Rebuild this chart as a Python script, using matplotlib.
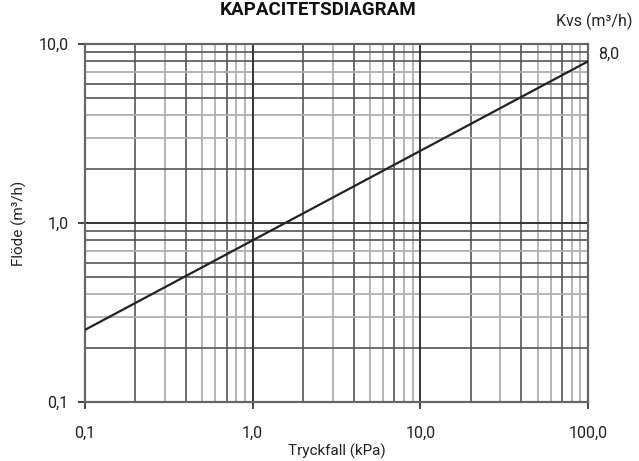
import numpy as np
import matplotlib
matplotlib.use("Agg")
import matplotlib.pyplot as plt

plt.rcParams['font.family'] = ['Roboto', 'DejaVu Sans']

# Data
kvs = 8.0
dp_kpa = [0.1, 100.0]
flow = [kvs * np.sqrt(d / 100.0) for d in dp_kpa]
x_ticks = [0.1, 1.0, 10.0, 100.0]
x_labels = ["0,1", "1,0", "10,0", "100,0"]
y_ticks = [0.1, 1.0, 10.0]
y_labels = ["0,1", "1,0", "10,0"]
# minor grid multipliers with darkness (True = dark)
x_minor = [(2, True), (3, False), (4, True), (5, False), (6, False), (7, True), (8, False), (9, False)]
y_minor = [(2, True), (3, False), (4, False), (5, True), (6, True), (7, False), (8, True), (9, True)]

fig = plt.figure(figsize=(6.39, 4.61), dpi=100)
ax = fig.add_axes([85/639, 1 - 402/461, (588-85)/639, (402-44)/461])
ax.set_xscale('log')
ax.set_yscale('log')
ax.set_xlim(0.1, 100)
ax.set_ylim(0.1, 10)

dark = '#555555'
light = '#b0b0b0'
for dec in [0.1, 1, 10]:
    for m, d in x_minor:
        ax.axvline(dec * m, color=dark if d else light, lw=1.3 if not d else 1.2, zorder=1)
for dec in [0.1, 1]:
    for m, d in y_minor:
        ax.axhline(dec * m, color=dark if d else light, lw=1.3 if not d else 1.2, zorder=1)
for v in [1, 10]:
    ax.axvline(v, color='#333333', lw=1.4, zorder=2)
ax.axhline(1, color='#333333', lw=1.4, zorder=2)

ax.plot(dp_kpa, flow, color='#222222', lw=1.6, zorder=3)

for s in ax.spines.values():
    s.set_color('#666666')
    s.set_linewidth(1.6)

ax.set_xticks(x_ticks)
ax.set_xticklabels(x_labels)
ax.set_yticks(y_ticks)
ax.set_yticklabels(y_labels)
ax.xaxis.set_minor_locator(matplotlib.ticker.NullLocator())
ax.yaxis.set_minor_locator(matplotlib.ticker.NullLocator())
ax.tick_params(axis='both', length=5, width=1.4, color='#444444', labelsize=11.5, pad=12, labelcolor='#222222')
ax.tick_params(axis='y', pad=7)

ax.set_xlabel("Tryckfall (kPa)", fontsize=11, color='#222222', labelpad=2)
ax.set_ylabel("Flöde (m³/h)", fontsize=11, color='#222222', labelpad=8)

fig.text(318/639, 1 - 1/461, "KAPACITETSDIAGRAM", ha='center', va='top', fontsize=13.5, fontweight='bold', color='#111111')
fig.text(632/639, 1 - 21/461, "Kvs (m³/h)", ha='right', va='center', fontsize=11.5, color='#222222')
ax.annotate("8,0", xy=(100, kvs), xytext=(7, 5), textcoords='offset points', ha='left', va='center', fontsize=11.5, color='#222222', annotation_clip=False)

fig.savefig("out.png", dpi=100)
